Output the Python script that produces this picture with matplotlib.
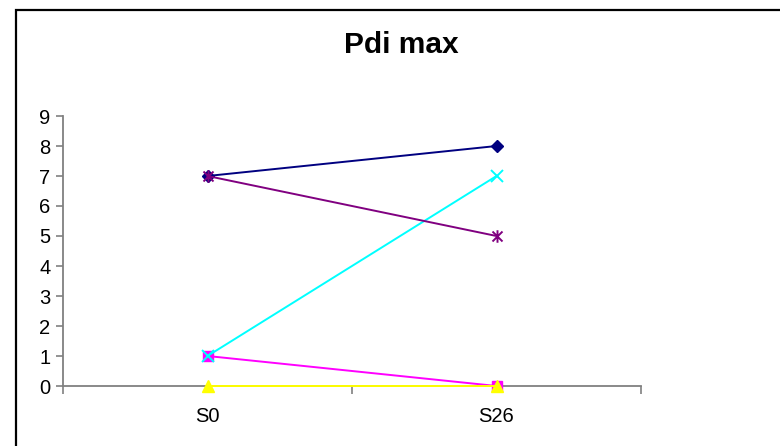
import matplotlib.pyplot as plt
from matplotlib.patches import Rectangle
from matplotlib.path import Path

plt.rcParams['font.family'] = ['Liberation Sans', 'DejaVu Sans']

# Pdi max per series, at the two sessions
categories = ['S0', 'S26']
series_1 = [7, 8]
series_2 = [1, 0]
series_3 = [0, 0]
series_4 = [1, 7]
series_5 = [7, 5]

# star marker: an x with a vertical stroke through it
star = Path([(-1, -1), (1, 1), (-1, 1), (1, -1), (0, -1.25), (0, 1.25)],
            [Path.MOVETO, Path.LINETO, Path.MOVETO, Path.LINETO,
             Path.MOVETO, Path.LINETO])

styles = [
    (series_1, '#000080', 'D', 6),
    (series_2, '#FF00FF', 's', 7),
    (series_3, '#FFFF00', '^', 8),
    (series_4, '#00FFFF', 'x', 9),
    (series_5, '#800080', star, 9),
]

fig = plt.figure(figsize=(7.8, 4.46), dpi=100)
ax = fig.add_axes([63 / 780, 1 - 386 / 446, (641 - 63) / 780, (386 - 116) / 446])

# chart frame
fig.patches.append(Rectangle((16 / 780, -0.1), 1.1, 1 - 10 / 446 + 0.1,
                             transform=fig.transFigure, fill=False,
                             edgecolor='black', linewidth=1.6))

x = [0.5, 1.5]
for vals, color, marker, ms in styles:
    thin = marker == 'x' or isinstance(marker, Path)
    ax.plot(x, vals, color=color, marker=marker, markersize=ms,
            markeredgewidth=1.4 if thin else 1,
            linewidth=1.4, clip_on=False, zorder=3)

ax.set_xlim(0, 2)
ax.set_ylim(0, 9)
ax.set_yticks(range(10))
ax.set_xticks([0, 1, 2])
ax.set_xticklabels([])
ax.set_xticks(x, minor=True)
ax.set_xticklabels(categories, minor=True)
ax.tick_params(axis='x', which='minor', length=0, pad=15, labelsize=14.5)
ax.tick_params(axis='x', which='major', length=6, width=1.2, color='#808080')
ax.tick_params(axis='y', length=5, width=1.2, color='#808080', labelsize=14.5, pad=4)

for side in ('top', 'right'):
    ax.spines[side].set_visible(False)
for side in ('left', 'bottom'):
    ax.spines[side].set_color('#808080')
    ax.spines[side].set_linewidth(1.3)

fig.text(0.515, 1 - 45 / 446, 'Pdi max', ha='center', va='center',
         fontsize=21.5, fontweight='bold')

fig.savefig('out.png', dpi=100)
